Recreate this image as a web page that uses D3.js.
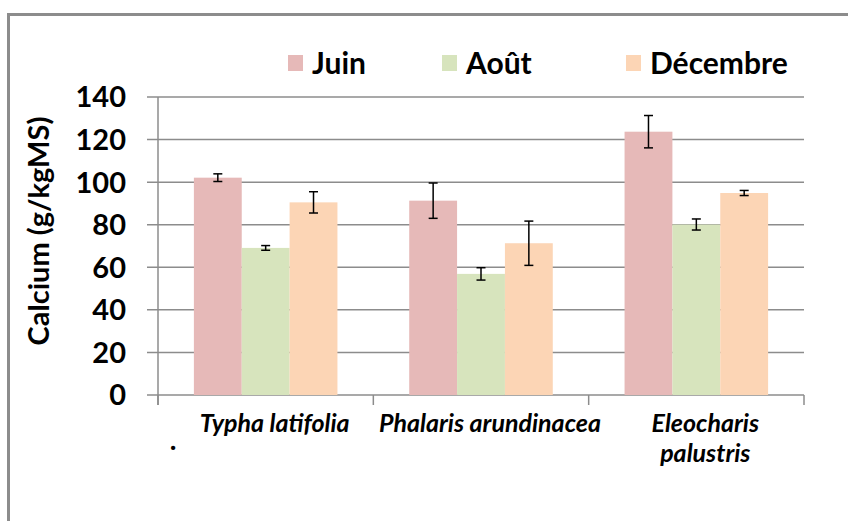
<!DOCTYPE html>
<html><head><meta charset="utf-8">
<script src="https://cdn.jsdelivr.net/npm/d3@7"></script>
<style>body{margin:0;background:#fff}svg{display:block}</style>
</head><body>
<svg id="c" width="848" height="521"></svg>
<script>
const categories = [["Typha latifolia"], ["Phalaris arundinacea"], ["Eleocharis", "palustris"]];
const seriesNames = ["Juin", "Août", "Décembre"];
const colors = ["#E6B9B8", "#D7E4BD", "#FCD5B5"];
const juin = [102.1, 91.3, 123.7];
const aout = [69.1, 56.9, 80.1];
const decembre = [90.5, 71.3, 94.9];
const juinErr = [1.8, 8.3, 7.6];
const aoutErr = [1.1, 2.9, 2.6];
const decembreErr = [5.0, 10.4, 1.2];
const yTicks = [0, 20, 40, 60, 80, 100, 120, 140];
const yTitle = "Calcium (g/kgMS)";

(function() {
const values = [juin, aout, decembre];
const errs = [juinErr, aoutErr, decembreErr];
const font = "Lato, 'Open Sans', sans-serif";
const grid = "#8c8c8c";

const svg = d3.select("#c");
const pLeft = 158, pRight = 804, pTop = 97, pBottom = 395;

// frame
svg.append("rect").attr("x", 8.5).attr("y", 14.5).attr("width", 900).attr("height", 600)
  .attr("fill", "none").attr("stroke", "#8c8c8c").attr("stroke-width", 3);

const x = d3.scaleBand().domain(d3.range(categories.length)).range([pLeft, pRight])
  .paddingInner(1/3).paddingOuter(1/6);
const xs = d3.scaleBand().domain(d3.range(seriesNames.length)).range([0, x.bandwidth()]);
const y = d3.scaleLinear().domain([0, 140]).range([pBottom, pTop]);

// gridlines
svg.append("g").selectAll("line").data(yTicks).join("line")
  .attr("x1", pLeft - 11).attr("x2", pRight)
  .attr("y1", d => y(d)).attr("y2", d => y(d))
  .attr("stroke", grid).attr("stroke-width", 1.5);

// y axis line
svg.append("line").attr("x1", pLeft).attr("x2", pLeft).attr("y1", pTop).attr("y2", pBottom + 10)
  .attr("stroke", grid).attr("stroke-width", 1.5);

// category tick marks
const step = (pRight - pLeft) / categories.length;
svg.append("g").selectAll("line").data(d3.range(categories.length + 1)).join("line")
  .attr("x1", i => pLeft + i * step).attr("x2", i => pLeft + i * step)
  .attr("y1", pBottom).attr("y2", pBottom + 10)
  .attr("stroke", grid).attr("stroke-width", 1.5);

// y tick labels
svg.append("g").selectAll("text").data(yTicks).join("text")
  .attr("x", 126).attr("y", d => y(d)).attr("dy", "0.36em")
  .attr("text-anchor", "end").attr("font-family", font).attr("font-weight", "bold")
  .attr("font-size", 29).attr("fill", "#000").text(d => d);

// bars
const gs = svg.append("g").selectAll("g").data(seriesNames).join("g");
gs.each(function(name, s) {
  const g = d3.select(this);
  g.selectAll("rect").data(values[s]).join("rect")
    .attr("x", (d, i) => x(i) + xs(s)).attr("width", xs.bandwidth())
    .attr("y", d => y(d)).attr("height", d => pBottom - y(d))
    .attr("fill", colors[s]);
  const eb = g.selectAll("g.eb").data(values[s]).join("g").attr("class", "eb");
  eb.append("line")
    .attr("x1", (d, i) => x(i) + xs(s) + xs.bandwidth() / 2)
    .attr("x2", (d, i) => x(i) + xs(s) + xs.bandwidth() / 2)
    .attr("y1", (d, i) => y(d + errs[s][i])).attr("y2", (d, i) => y(d - errs[s][i]))
    .attr("stroke", "#000").attr("stroke-width", 1.5);
  [1, -1].forEach(sign => {
    eb.append("line")
      .attr("x1", (d, i) => x(i) + xs(s) + xs.bandwidth() / 2 - 4.5)
      .attr("x2", (d, i) => x(i) + xs(s) + xs.bandwidth() / 2 + 4.5)
      .attr("y1", (d, i) => y(d + sign * errs[s][i])).attr("y2", (d, i) => y(d + sign * errs[s][i]))
      .attr("stroke", "#000").attr("stroke-width", 1.5);
  });
});

// x labels
const xl = svg.append("g").selectAll("text").data(categories).join("text")
  .attr("x", (d, i) => x(i) + x.bandwidth() / 2 + 9).attr("y", 432)
  .attr("text-anchor", "middle").attr("font-family", font).attr("font-weight", "bold")
  .attr("font-style", "italic").attr("font-size", 25).attr("fill", "#000");
xl.each(function(lines) {
  const t = d3.select(this);
  lines.forEach((l, k) => t.append("tspan").attr("x", t.attr("x")).attr("dy", k ? 30 : 0).text(l));
});

// small dot
svg.append("text").attr("x", 173).attr("y", 450).attr("text-anchor", "middle")
  .attr("font-family", font).attr("font-weight", "900").attr("font-size", 26).text(".");

// y title
svg.append("text").attr("transform", "translate(49,231) rotate(-90)")
  .attr("text-anchor", "middle").attr("font-family", font).attr("font-weight", "bold")
  .attr("font-size", 29).attr("fill", "#000").text(yTitle);

// legend
const legX = [288, 442, 626];
const lg = svg.append("g").selectAll("g").data(seriesNames).join("g")
  .attr("transform", (d, i) => `translate(${legX[i]},0)`);
lg.append("rect").attr("x", 0).attr("y", 55).attr("width", 15).attr("height", 16)
  .attr("fill", (d, i) => colors[i]);
lg.append("text").attr("x", 24).attr("y", 74).attr("font-family", font)
  .attr("font-weight", "bold").attr("font-size", 30).attr("fill", "#000").text(d => d);
})();
</script>
</body></html>
